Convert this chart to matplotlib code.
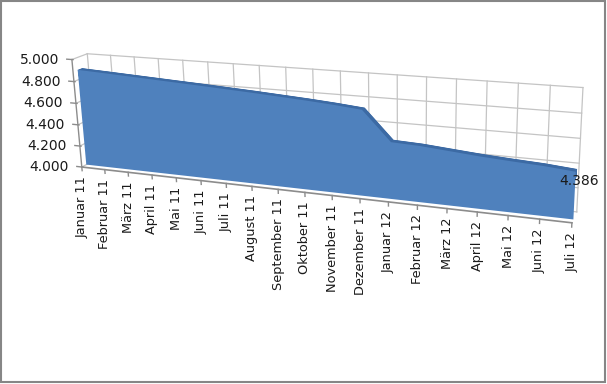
import numpy as np
import matplotlib
matplotlib.use("Agg")
import matplotlib.pyplot as plt
from matplotlib.transforms import Transform, offset_copy
from matplotlib.patches import Polygon, Rectangle

months = ["Januar 11", "Februar 11", "März 11", "April 11", "Mai 11", "Juni 11",
          "Juli 11", "August 11", "September 11", "Oktober 11", "November 11",
          "Dezember 11", "Januar 12", "Februar 12", "März 12", "April 12",
          "Mai 12", "Juni 12", "Juli 12"]
values = [4.89, 4.879, 4.867, 4.855, 4.843, 4.831, 4.818, 4.805, 4.79, 4.775, 4.757,
          4.735, 4.485, 4.475, 4.455, 4.435, 4.42, 4.407, 4.386]
value_ticks = [4.0, 4.2, 4.4, 4.6, 4.8, 5.0]
tick_labels = ["4.000", "4.200", "4.400", "4.600", "4.800", "5.000"]
last_label = "4.386"

W, H = 607, 384
BLUE = "#4f81bd"
TOP = "#3c6aa4"
GRID = "#c4c4c4"
AXIS = "#8c8c8c"

# corners of the 3d box: (category, depth, value) -> pixel in the reference
box_world = np.array([(0, 0, 5), (0, 0, 4), (0, 1, 5), (9, 1, 5), (18, 1, 5),
                      (18, 1, 4.4), (18, 1, 4), (11, 0, 4), (12, 0, 4), (18, 0, 4)], float)
box_px = np.array([(72, 59), (82, 167), (87, 54), (313, 69.5), (583, 88),
                   (579, 162), (577, 212), (360, 199), (388, 202), (572, 223)], float)


def fit_camera(world, px):
    rows = []
    for (X, Y, Z), (u, v) in zip(world, px / 100):
        Z = Z - 4
        rows.append([X, Y, Z, 1, 0, 0, 0, 0, -u * X, -u * Y, -u * Z, -u])
        rows.append([0, 0, 0, 0, X, Y, Z, 1, -v * X, -v * Y, -v * Z, -v])
    return np.linalg.svd(np.array(rows))[2][-1].reshape(3, 4)


CAM = fit_camera(box_world, box_px)


class Plane(Transform):
    """(a, value) on a plane with fixed depth or fixed category -> pixels"""
    input_dims = output_dims = 2
    is_separable = False
    has_inverse = False

    def __init__(self, axis, at):
        super().__init__()
        self.axis, self.at = axis, at

    def transform_non_affine(self, pts):
        pts = np.asarray(pts, float).reshape(-1, 2)
        a, z = pts[:, 0], pts[:, 1]
        c = np.full_like(a, self.at)
        X, Y = (a, c) if self.axis == "depth" else (c, a)
        h = np.column_stack([X, Y, z - 4, np.ones_like(a)]) @ CAM.T
        return h[:, :2] / h[:, 2:] * 100


fig = plt.figure(figsize=(W / 100, H / 100), dpi=100)
ax = fig.add_axes([0, 0, 1, 1])
ax.set_xlim(0, W)
ax.set_ylim(H, 0)
ax.axis("off")

front = Plane("depth", 0) + ax.transData
back = Plane("depth", 1) + ax.transData
side = Plane("category", 0) + ax.transData

# walls
for i in range(len(months)):
    ax.plot([i, i], [4, 5], transform=back, color=GRID, lw=0.9, zorder=0.5)
for v in value_ticks:
    ax.plot([0, len(months) - 1], [v, v], transform=back, color=GRID, lw=0.9, zorder=0.5)
    ax.plot([0, 1], [v, v], transform=side, color=GRID, lw=0.9, zorder=0.5)

# area: top face swept as thin bands over the depth, then the front face
top_edge = list(zip(range(len(values)), values))
band = top_edge + [(i, v - 0.06) for i, v in reversed(top_edge)]
for d in np.linspace(0.58, 0.31, 12):
    ax.add_patch(Polygon(band, closed=True, fc=TOP, ec="none", zorder=1,
                         transform=Plane("depth", d) + ax.transData))
verts = [(0, 4)] + top_edge + [(len(values) - 1, 4)]
face = Plane("depth", 0.3) + ax.transData
ax.add_patch(Polygon(verts, closed=True, fc=BLUE, ec="none", zorder=1.1, transform=face))

# axes
ax.plot([0, 0], [4, 5], transform=front, color=AXIS, lw=1, zorder=2)
ax.plot([0, len(months) - 1], [4, 4], transform=front, color=AXIS, lw=1.2, zorder=2)
for v, lab in zip(value_ticks, tick_labels):
    ax.plot([-0.22, 0.05], [v, v], transform=front, color=AXIS, lw=1, zorder=2)
    ax.text(0, v, lab, transform=offset_copy(front, fig, x=-13, y=0, units="dots"),
            ha="right", va="center", fontsize=10, color="#1a1a1a")
for i, m in enumerate(months):
    ax.plot([i, i], [4, 3.965], transform=front, color=AXIS, lw=1, zorder=2)
    ax.text(i, 4, m, transform=offset_copy(front, fig, x=0, y=-9, units="dots"),
            rotation=90, ha="center", va="top", fontsize=9.3, color="#1a1a1a")

ax.text(len(values) - 1, values[-1], last_label,
        transform=offset_copy(face, fig, x=3, y=-9, units="dots"),
        ha="center", va="center", fontsize=10, color="#1a1a1a", zorder=3)

ax.add_patch(Rectangle((0.7, 0.7), W - 2.4, H - 2.4, fill=False,
                       ec="#868686", lw=1.5, clip_on=False))

fig.savefig("out.png", dpi=100)
